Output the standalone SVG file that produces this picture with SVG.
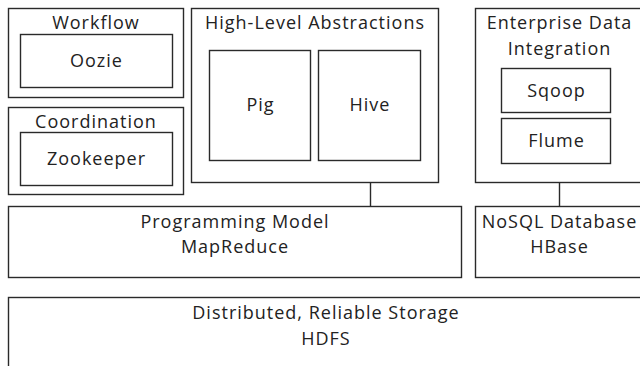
<svg xmlns="http://www.w3.org/2000/svg" width="640" height="366" viewBox="0 0 640 366">
<style>
rect{fill:#fff;stroke:#2a2a2a;stroke-width:1.4}
text{font-family:"Open Sans","DejaVu Sans",sans-serif;font-size:18px;letter-spacing:1px;fill:#222;text-anchor:middle}
line{stroke:#2a2a2a;stroke-width:1.4}
</style>
<rect x="0" y="0" width="640" height="366" style="stroke:none"/>
<g id="workflow">
<rect x="8.5" y="8.5" width="175" height="89"/>
<text x="96" y="29">Workflow</text>
</g>
<g id="oozie">
<rect x="20.5" y="34.5" width="152" height="53"/>
<text x="96.5" y="67">Oozie</text>
</g>
<g id="coordination">
<rect x="8.5" y="107.5" width="175" height="87"/>
<text x="96" y="128">Coordination</text>
</g>
<g id="zookeeper">
<rect x="20.5" y="132.5" width="152" height="53"/>
<text x="96.5" y="165">Zookeeper</text>
</g>
<g id="high-level">
<rect x="191.5" y="8.5" width="247" height="174"/>
<text x="315" y="29">High-Level Abstractions</text>
</g>
<g id="pig">
<rect x="209.5" y="50.5" width="101" height="110"/>
<text x="260.5" y="111">Pig</text>
</g>
<g id="hive">
<rect x="318.5" y="50.5" width="102" height="110"/>
<text x="370" y="111">Hive</text>
</g>
<g id="enterprise">
<rect x="475.5" y="8.5" width="168" height="174"/>
<text x="559.5" y="29">Enterprise Data</text>
<text x="559.5" y="55">Integration</text>
</g>
<g id="sqoop">
<rect x="501.5" y="68.5" width="109" height="44"/>
<text x="556.5" y="97">Sqoop</text>
</g>
<g id="flume">
<rect x="501.5" y="118.5" width="109" height="45"/>
<text x="556.5" y="147">Flume</text>
</g>
<g id="mapreduce">
<rect x="8.5" y="206.5" width="453" height="71"/>
<text x="235" y="228">Programming Model</text>
<text x="235" y="253">MapReduce</text>
</g>
<g id="hbase">
<rect x="475.5" y="206.5" width="168" height="71"/>
<text x="559.5" y="228">NoSQL Database</text>
<text x="559.5" y="253">HBase</text>
</g>
<g id="hdfs">
<rect x="8.5" y="297.5" width="640" height="80"/>
<text x="326" y="319">Distributed, Reliable Storage</text>
<text x="326" y="345">HDFS</text>
</g>
<g id="connectors">
<line x1="370.5" y1="182" x2="370.5" y2="206"/>
<line x1="559.5" y1="182" x2="559.5" y2="206"/>
</g>
</svg>
